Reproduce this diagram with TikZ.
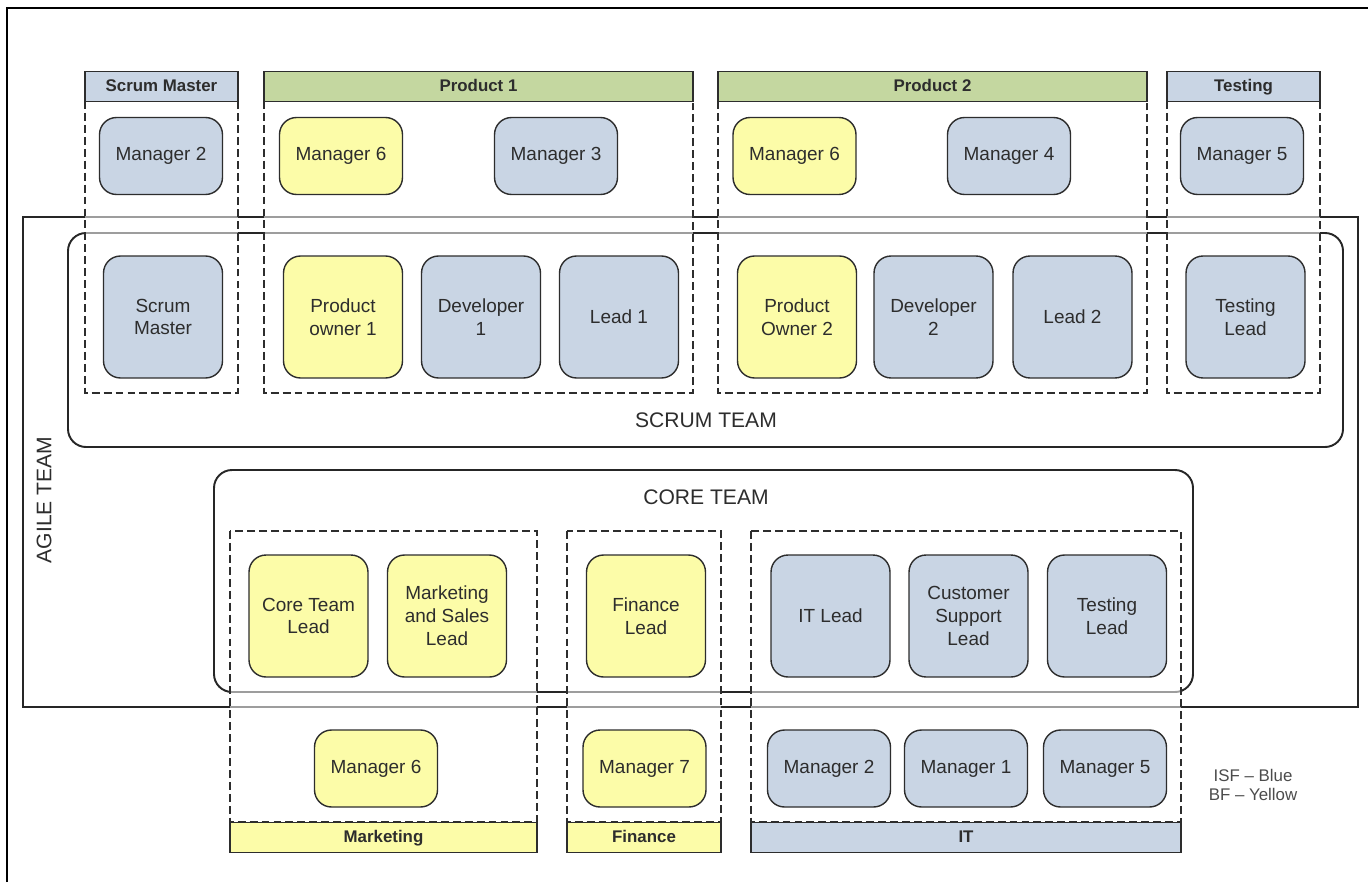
\documentclass[tikz,border=0pt]{standalone}
\usepackage{fontspec}
\setmainfont{Liberation Sans}
\definecolor{isfblue}{RGB}{201,213,228}
\definecolor{bfyellow}{RGB}{252,252,168}
\definecolor{prodgreen}{RGB}{196,215,160}
\definecolor{ink}{RGB}{45,45,45}

\begin{document}
\begin{tikzpicture}
  [x=0.02cm,y=-0.02cm,
   every node/.style={text=ink,font=\fontsize{10.8}{13}\selectfont,align=center},
   card/.style={draw=ink,line width=0.8pt,rounded corners=0.34cm,inner sep=1pt},
   isf/.style={card,fill=isfblue},
   bf/.style={card,fill=bfyellow},
   mgr/.style={minimum width=2.46cm,minimum height=1.54cm},
   lead/.style={minimum width=2.38cm,minimum height=2.44cm},
   hdr/.style={draw=ink,line width=0.8pt,minimum height=0.6cm,inner sep=0pt,
     text height=6.6pt,text depth=0.4pt,
     font=\fontsize{9.6}{11}\selectfont\bfseries},
   group/.style={draw=ink,line width=0.8pt,dash pattern=on 4.5pt off 2.3pt,
     fill=white,fill opacity=0.55},
   team/.style={draw=black!85,line width=1.1pt,rounded corners=0.36cm},
   teamlabel/.style={font=\fontsize{12}{14}\selectfont}]
  \useasboundingbox (0,0) rectangle (1368,882);

  % teams
  \draw[draw=black!85,line width=0.9pt] (23,217) rectangle (1358,707);
  \draw[team] (68,233) rectangle (1343,447);
  \draw[team] (214,470) rectangle (1193,692);
  \node[teamlabel] (scrumteam) at (706,420) {SCRUM TEAM};
  \node[teamlabel] (coreteam) at (706,497) {CORE TEAM};
  \node[teamlabel,rotate=90] (agileteam) at (44,500) {AGILE TEAM};

  % groups
  \draw[group] (85,101) rectangle (238,393);
  \draw[group] (264,101) rectangle (693,393);
  \draw[group] (718,101) rectangle (1147,393);
  \draw[group] (1167,101) rectangle (1320,393);
  \draw[group] (230,531) rectangle (537,822);
  \draw[group] (567,531) rectangle (721,822);
  \draw[group] (751,531) rectangle (1181,822);

  \node[hdr,fill=isfblue,minimum width=3.06cm] (hsm) at (161.5,86.5) {Scrum Master};
  \node[hdr,fill=prodgreen,minimum width=8.58cm] (hpa) at (478.5,86.5) {Product 1};
  \node[hdr,fill=prodgreen,minimum width=8.58cm] (hpb) at (932.5,86.5) {Product 2};
  \node[hdr,fill=isfblue,minimum width=3.06cm] (hte) at (1243.5,86.5) {Testing};
  \node[hdr,fill=bfyellow,minimum width=6.14cm] (hmk) at (383.5,837.5) {Marketing};
  \node[hdr,fill=bfyellow,minimum width=3.08cm] (hfi) at (644,837.5) {Finance};
  \node[hdr,fill=isfblue,minimum width=8.6cm] (hit) at (966,837.5) {IT};

  % managers on top
  \node[isf,mgr] (ma) at (161,156) {Manager 2};
  \node[bf,mgr] (mb) at (341,156) {Manager 6};
  \node[isf,mgr] (mc) at (556,156) {Manager 3};
  \node[bf,mgr] (md) at (794.5,156) {Manager 6};
  \node[isf,mgr] (me) at (1009,156) {Manager 4};
  \node[isf,mgr] (mf) at (1242,156) {Manager 5};

  % scrum team
  \node[isf,lead] (sa) at (163,317) {Scrum\\Master};
  \node[bf,lead] (sb) at (343,317) {Product\\owner 1};
  \node[isf,lead] (sc) at (481,317) {Developer\\1};
  \node[isf,lead] (sd) at (619,317) {Lead 1};
  \node[bf,lead] (se) at (797,317) {Product\\Owner 2};
  \node[isf,lead] (sf) at (933.5,317) {Developer\\2};
  \node[isf,lead] (sg) at (1072.5,317) {Lead 2};
  \node[isf,lead] (sh) at (1245.5,317) {Testing\\Lead};

  % core team
  \node[bf,lead] (ca) at (308.5,616) {Core Team\\Lead};
  \node[bf,lead] (cb) at (447,616) {Marketing\\and Sales\\Lead};
  \node[bf,lead] (cc) at (646,616) {Finance\\Lead};
  \node[isf,lead] (cd) at (830.5,616) {IT Lead};
  \node[isf,lead] (ce) at (968.5,616) {Customer\\Support\\Lead};
  \node[isf,lead] (cf) at (1107,616) {Testing\\Lead};

  % managers below
  \node[bf,mgr] (na) at (376,768.5) {Manager 6};
  \node[bf,mgr] (nb) at (644.5,768.5) {Manager 7};
  \node[isf,mgr] (nc) at (829,768.5) {Manager 2};
  \node[isf,mgr] (nd) at (966,768.5) {Manager 1};
  \node[isf,mgr] (ne) at (1105,768.5) {Manager 5};

  \node[text=black!70,font=\fontsize{9.6}{11.3}\selectfont] (legend) at (1253,785)
    {ISF -- Blue\\BF -- Yellow};

  \draw[line width=1.6pt] (7,882) -- (7,8) -- (1368,8);
\end{tikzpicture}
\end{document}
